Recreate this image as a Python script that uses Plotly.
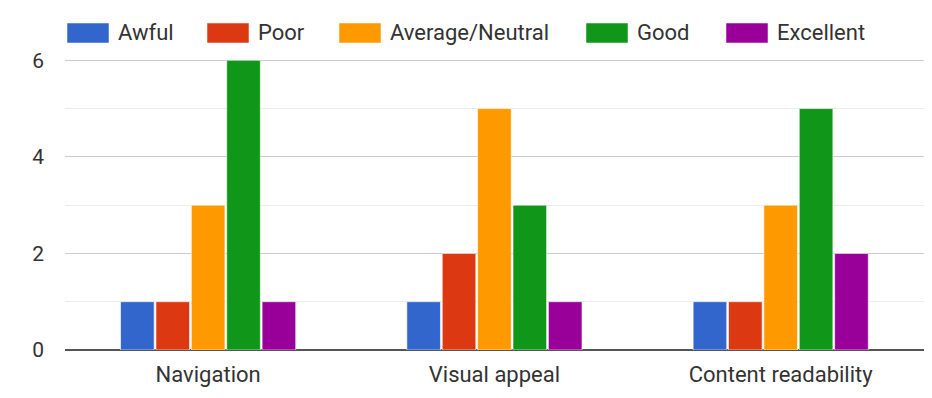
import plotly.graph_objects as go

categories = ["Navigation", "Visual appeal", "Content readability"]
series_names = ["Awful", "Poor", "Average/Neutral", "Good", "Excellent"]
awful = [1, 1, 1]
poor = [1, 2, 1]
average = [3, 5, 3]
good = [6, 3, 5]
excellent = [1, 1, 2]
colors = ["#3366cc", "#dc3912", "#ff9900", "#109618", "#990099"]
y_ticks = [0, 2, 4, 6]

values = [awful, poor, average, good, excellent]
FONT = "Roboto, Arial, sans-serif"
TXT = "#333333"

fig = go.Figure()
for name, vals, col in zip(series_names, values, colors):
    fig.add_trace(go.Bar(
        x=categories, y=vals, name=name,
        marker=dict(color=col, line=dict(color="rgba(255,255,255,0.6)", width=1)),
        showlegend=False,
    ))

# page body has an 8px offset; compensate
OFF = 8
W, H = 932 - OFF, 398 - OFF
PL, PR, PT, PB = 65, 931, 12, 350  # plot area in window pixels
L, R, T, B = PL - OFF, OFF + W - PR, PT - OFF, OFF + H - PB
pw, ph = PR - PL, PB - PT

# manual legend (wide swatches like the reference)
legend_x = [67, 207, 339, 586, 726]
for name, col, px in zip(series_names, colors, legend_x):
    x0 = (px - PL) / pw
    x1 = (px + 42 - PL) / pw
    y0 = (PB - 43) / ph
    y1 = (PB - 23) / ph
    fig.add_shape(type="rect", xref="paper", yref="paper", x0=x0, x1=x1, y0=y0, y1=y1,
                  fillcolor=col, line=dict(color="rgba(255,255,255,0.5)", width=1), layer="above")
    fig.add_annotation(xref="paper", yref="paper", x=(px + 49 - PL) / pw, y=(PB - 33) / ph,
                       text=name, showarrow=False, xanchor="left", yanchor="middle",
                       font=dict(family=FONT, size=22, color=TXT))

fig.update_layout(
    width=W, height=H,
    margin=dict(l=L, r=R, t=T, b=B),
    paper_bgcolor="white", plot_bgcolor="white",
    barmode="group", bargap=0.382, bargroupgap=0.05,
    font=dict(family=FONT, size=21, color=TXT),
    showlegend=False,
)
fig.update_xaxes(
    type="category", range=[-0.5, 2.525], showgrid=False,
    showline=False, ticks="", ticklabelstandoff=9,
    tickfont=dict(family=FONT, size=22, color=TXT),
)
fig.update_yaxes(
    range=[0, 7], tickvals=y_ticks, showgrid=True, gridcolor="#cccccc", gridwidth=1,
    minor=dict(dtick=1, tick0=0, showgrid=True, gridcolor="#ebebeb", gridwidth=1),
    zeroline=True, zerolinecolor="#555555", zerolinewidth=2,
    ticks="", ticklabelstandoff=20,
    tickfont=dict(family=FONT, size=21, color=TXT),
)

fig.write_html("out.html")
